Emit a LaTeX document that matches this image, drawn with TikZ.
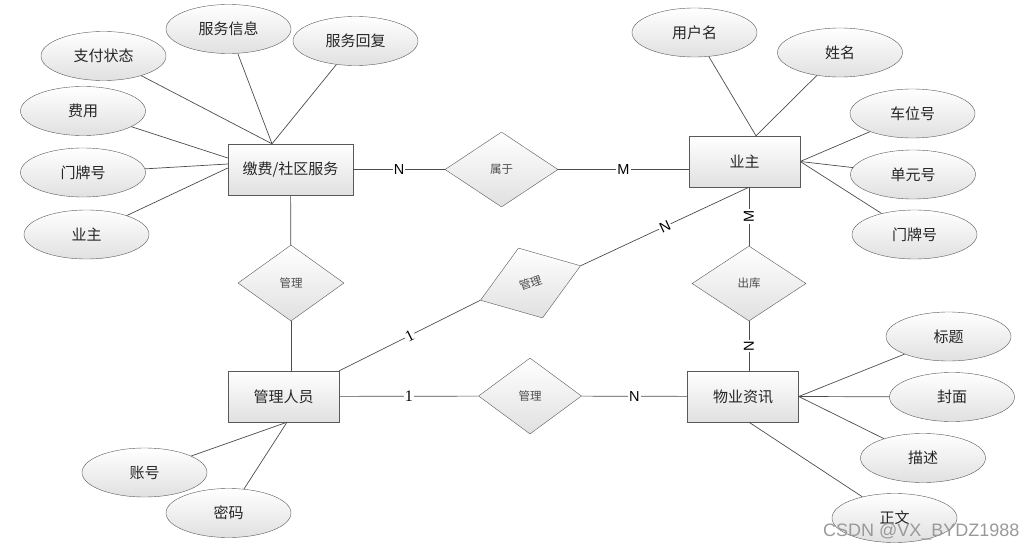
\documentclass[tikz,border=0pt]{standalone}
\usepackage{fontspec}
\setmainfont{Noto Sans CJK SC}
\newfontfamily\latfont{Liberation Sans}
\newfontfamily\numfont{Liberation Serif}
\usetikzlibrary{shapes,positioning,calc}
\tikzset{
entity/.style = {draw=black!65, top color=white, bottom color=black!12, rectangle, minimum height=51pt, minimum width=111pt, font=\fontsize{15}{18}\selectfont, text=black!85},
attr/.style = {draw=black!65, top color=white, bottom color=black!12, ellipse, minimum height=49pt, minimum width=125pt, inner sep=0pt, font=\fontsize{15}{18}\selectfont, text=black!85},
rel/.style = {draw=black!65, top color=white, bottom color=black!12, diamond, minimum height=75pt, minimum width=110pt, inner sep=0pt, font=\fontsize{11.5}{14}\selectfont, text=black!70},
card/.style = {fill=white, inner sep=1pt, font=\latfont\fontsize{14.5}{16}\selectfont},
one/.style = {card, font=\numfont\fontsize{16}{18}\selectfont},
link/.style = {draw=black!70, line width=0.7pt}
}

\begin{document}
\begin{tikzpicture}[x=1pt, y=-1pt]
\useasboundingbox (0,0) rectangle (1026,551);

                % entities
                \node [entity, minimum width=125pt] (fee) at (290.5,169.5) {缴费/社区服务};
                \node [entity] (owner) at (744.5,161.5) {业主};
                \node [entity] (admin) at (283.5,396.5) {管理人员};
                \node [entity] (news) at (743,396.5) {物业资讯};

                % relations
                \node [rel, minimum width=113pt] (belong) at (501.5,169.5) {属于};
                \node [rel, minimum width=106pt, minimum height=76pt] (manage1) at (291,283) {管理};
                \node [rel, rotate=19, minimum width=106pt, minimum height=74pt] (manage2) at (530.5,283) {管理};
                \node [rel, minimum width=114pt] (outlib) at (749,283.5) {出库};
                \node [rel, minimum width=103pt, minimum height=76pt] (manage3) at (530,396) {管理};

                % attributes
                \node [attr] (paystate) at (103.5,56) {支付状态};
                \node [attr] (svcinfo) at (228.5,29) {服务信息};
                \node [attr] (svcreply) at (355.5,41) {服务回复};
                \node [attr] (cost) at (83,111) {费用};
                \node [attr] (doorA) at (83,172.5) {门牌号};
                \node [attr] (ownerA) at (86.5,234.5) {业主};
                \node [attr] (username) at (694.5,32.5) {用户名};
                \node [attr] (name) at (840,52.5) {姓名};
                \node [attr] (parking) at (912.5,113.5) {车位号};
                \node [attr] (unit) at (913,174.5) {单元号};
                \node [attr] (doorB) at (914.5,234.5) {门牌号};
                \node [attr] (account) at (144.5,472.5) {账号};
                \node [attr] (password) at (228.5,513) {密码};
                \node [attr] (title) at (948.5,336.5) {标题};
                \node [attr] (cover) at (952,397) {封面};
                \node [attr] (descr) at (923,458) {描述};
                \node [attr] (body) at (894.5,518) {正文};

                % meeting points
                \coordinate (feeT) at ([xshift=-18.5pt]fee.north);
                \coordinate (feeL1) at ([yshift=11.5pt]fee.west);
                \coordinate (feeL2) at ([yshift=5.5pt]fee.west);
                \coordinate (feeL3) at ([yshift=1.5pt]fee.west);
                \coordinate (ownerT) at ([xshift=11.5pt]owner.north);
                \coordinate (ownerB) at ([xshift=4.5pt]owner.south);
                \coordinate (adminB) at ([xshift=3.5pt]admin.south);
                \coordinate (newsB) at ([xshift=6pt]news.south);

                \draw [link] (paystate) -- (feeT);
                \draw [link] (svcinfo) -- (feeT);
                \draw [link] (svcreply) -- (feeT);
                \draw [link] (cost) -- (feeL1);
                \draw [link] (doorA) -- (feeL2);
                \draw [link] (ownerA) -- (feeL3);
                \draw [link] (username) -- (ownerT);
                \draw [link] (name) -- (ownerT);
                \draw [link] (parking) -- (owner.east);
                \draw [link] (unit) -- (owner.east);
                \draw [link] (doorB) -- (owner.east);
                \draw [link] (account) -- (adminB);
                \draw [link] (password) -- (adminB);
                \draw [link] (title) -- (news.east);
                \draw [link] (cover) -- (news.east);
                \draw [link] (descr) -- (news.east);
                \draw [link] (body) -- (newsB);

                % relation links
                \draw [link] (fee) -- node [card] {N} (belong);
                \draw [link] (belong) -- node [card] {M} (belong -| owner.west);
                \draw [link] (fee) -- (manage1);
                \draw [link] (manage1) -- (manage1 |- admin.north);
                \draw [link] (admin.north east) -- node [one, sloped] {1} (manage2.west);
                \draw [link] (manage2.east) -- node [card, sloped] {N} (ownerB);
                \draw [link] (ownerB) -- node [card, rotate=90] {M} (outlib);
                \draw [link] (outlib) -- node [card, rotate=90] {N} (outlib |- news.north);
                \draw [link] (admin) -- node [one] {1} (manage3);
                \draw [link] (manage3) -- node [card] {N} (news);

                \node [anchor=east, text=black!40, font=\latfont\fontsize{18}{20}\selectfont] (mark) at (1023,532) {CSDN @VX\_BYDZ1988};
\end{tikzpicture}
\end{document}
